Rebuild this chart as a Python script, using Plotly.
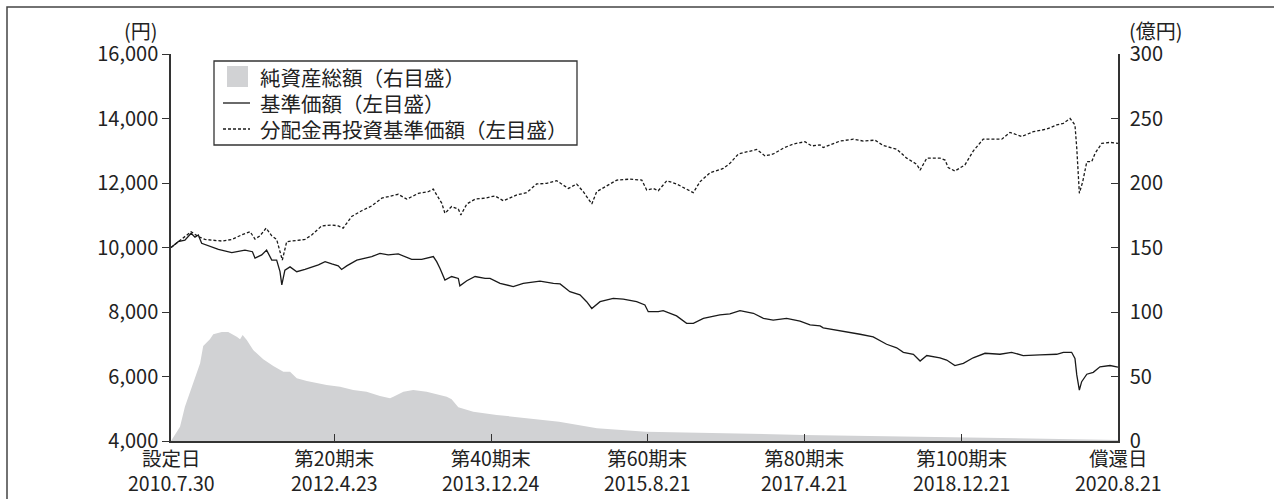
import plotly.graph_objects as go

# ---------------- data ----------------
nav_dates = ["2010-07-30","2010-08-27","2010-09-22","2010-10-16","2010-10-31","2010-11-13","2010-11-26",
    "2011-01-04","2011-01-30","2011-03-23","2011-05-13","2011-06-11","2011-06-21","2011-07-17","2011-08-05",
    "2011-08-25","2011-09-13","2011-09-26","2011-10-03","2011-10-15","2011-11-04","2011-11-30","2012-01-01",
    "2012-02-22","2012-03-19","2012-04-14","2012-05-09","2012-05-22","2012-06-11","2012-07-20","2012-08-21",
    "2012-09-16","2012-10-18","2012-11-19","2012-12-28","2013-01-23","2013-02-18","2013-03-29","2013-04-23",
    "2013-05-13","2013-05-26","2013-06-08","2013-06-27","2013-07-23","2013-08-18","2013-08-24","2013-09-20",
    "2013-10-22","2013-11-30","2013-12-19","2014-01-27","2014-03-19","2014-04-27","2014-07-01","2014-08-22",
    "2014-09-17","2014-10-25","2014-12-03","2014-12-29","2015-01-18","2015-02-19","2015-04-11","2015-05-20",
    "2015-07-11","2015-08-12","2015-08-25","2015-10-03","2015-10-22","2015-12-13","2016-01-21","2016-02-16",
    "2016-03-26","2016-05-29","2016-07-07","2016-08-15","2016-10-06","2016-11-14","2016-12-22","2017-02-12",
    "2017-04-05","2017-05-14","2017-06-22","2017-07-04","2017-09-20","2017-11-24","2018-01-14","2018-03-07",
    "2018-04-15","2018-05-11","2018-06-19","2018-07-15","2018-08-10","2018-09-30","2018-10-26","2018-11-27",
    "2018-12-30","2019-02-06","2019-03-24","2019-05-21","2019-07-05","2019-08-19","2019-10-23","2019-12-27",
    "2020-01-22","2020-02-23","2020-03-07","2020-03-14","2020-03-24","2020-04-02","2020-04-22","2020-05-17",
    "2020-06-12","2020-07-21","2020-08-21"]
nav_values = [10000,10180,10230,10440,10320,10390,10130,
    10030,9940,9840,9920,9870,9670,9770,9920,
    9610,9610,9250,8840,9300,9400,9250,9320,
    9460,9560,9490,9430,9320,9430,9610,9670,
    9720,9820,9770,9800,9720,9630,9630,9670,
    9720,9560,9350,8990,9100,9040,8810,8970,
    9100,9040,9040,8890,8790,8890,8960,8890,
    8870,8630,8530,8320,8110,8320,8420,8400,
    8320,8220,8010,8010,8040,7880,7650,7650,
    7800,7910,7940,8040,7960,7800,7750,7800,
    7720,7600,7570,7510,7410,7310,7230,7000,
    6890,6750,6690,6480,6650,6580,6510,6340,
    6410,6580,6720,6690,6750,6650,6670,6690,
    6750,6750,6560,6050,5580,5840,6070,6130,
    6300,6340,6290]

reinv_dates = ["2010-07-30","2010-10-16","2010-11-13","2010-12-09","2011-02-12","2011-03-23","2011-04-30",
    "2011-06-02","2011-06-21","2011-07-10","2011-08-03","2011-08-25","2011-09-13","2011-09-26","2011-10-05",
    "2011-10-22","2011-11-30","2012-01-01","2012-01-27","2012-03-06","2012-04-14","2012-05-09","2012-05-28",
    "2012-06-30","2012-08-08","2012-09-16","2012-10-25","2012-12-28","2013-01-30","2013-03-16","2013-04-23",
    "2013-05-13","2013-05-26","2013-06-15","2013-06-27","2013-07-23","2013-08-18","2013-08-28","2013-09-20",
    "2013-10-22","2013-11-30","2014-01-07","2014-02-09","2014-04-02","2014-05-10","2014-06-18","2014-07-27",
    "2014-09-04","2014-10-19","2014-11-20","2014-12-16","2015-01-18","2015-02-06","2015-03-17","2015-04-25",
    "2015-06-15","2015-07-31","2015-08-19","2015-09-14","2015-10-03","2015-11-05","2015-12-13","2016-01-21",
    "2016-02-16","2016-03-13","2016-04-21","2016-06-11","2016-07-07","2016-08-09","2016-09-10","2016-10-19",
    "2016-11-20","2016-12-22","2017-01-30","2017-03-10","2017-04-24","2017-05-20","2017-06-22","2017-07-04",
    "2017-09-07","2017-10-29","2017-12-07","2018-01-21","2018-02-22","2018-04-15","2018-05-24","2018-07-02",
    "2018-07-15","2018-08-10","2018-09-30","2018-10-20","2018-11-01","2018-11-27","2019-01-05","2019-02-06",
    "2019-03-17","2019-05-28","2019-06-29","2019-08-13","2019-09-27","2019-11-18","2019-12-27","2020-01-22",
    "2020-02-17","2020-03-07","2020-03-14","2020-03-24","2020-04-06","2020-04-22","2020-05-11","2020-05-24",
    "2020-06-19","2020-07-21","2020-08-21"]
reinv_values = [10000,10490,10340,10250,10200,10250,10390,
    10490,10260,10360,10600,10360,10250,9820,9610,
    10180,10230,10250,10390,10670,10700,10670,10600,
    10960,11140,11290,11530,11650,11500,11680,11730,
    11810,11630,11370,11060,11270,11190,11010,11350,
    11500,11530,11600,11450,11630,11700,11970,11990,
    12070,11830,11970,11730,11350,11730,11910,12090,
    12120,12090,11780,11830,11760,12070,11970,11800,
    11700,12040,12320,12450,12610,12900,12970,13040,
    12840,12900,13080,13210,13280,13150,13180,13100,
    13300,13360,13300,13330,13160,13050,12770,12580,
    12400,12770,12770,12710,12480,12370,12560,12990,
    13360,13360,13570,13440,13590,13670,13800,13850,
    14000,13800,13080,11680,12040,12660,12660,12920,
    13230,13260,13230]

assets_dates = ["2010-07-30","2010-09-03","2010-09-22","2010-10-25","2010-11-20","2010-12-02","2010-12-28",
    "2011-01-10","2011-02-12","2011-03-09","2011-04-11","2011-04-24","2011-05-04","2011-05-20","2011-06-14",
    "2011-07-23","2011-08-31","2011-10-09","2011-11-04","2011-11-30","2012-01-08","2012-03-25","2012-05-16",
    "2012-07-06","2012-08-27","2012-10-18","2012-11-26","2012-12-09","2013-01-17","2013-02-24","2013-04-17",
    "2013-07-04","2013-07-23","2013-08-18","2013-10-15","2014-01-14","2014-09-13","2015-02-07","2015-08-16",
    "2017-04-20","2018-12-21","2020-02-28","2020-08-21"]
assets_values = [0,11,26.6,44.7,60.2,73.6,78.8,
    82.7,84.5,84.5,80.9,78.8,82.2,78.3,70.5,
    63.3,58.1,53.7,53.7,48.6,46.5,43.4,42.1,
    39.5,38.2,34.9,33.1,34.3,38.2,39.5,38.2,
    34.3,32.3,26.1,22.7,20.2,15.0,9.8,7.2,
    4.7,2.6,1.3,0.8]

tick_dates = ["2010-07-30","2012-04-23","2013-12-24","2015-08-21","2017-04-21","2018-12-21","2020-08-21"]
tick_names = ["設定日","第20期末","第40期末","第60期末","第80期末","第100期末","償還日"]
tick_date_labels = ["2010.7.30","2012.4.23","2013.12.24","2015.8.21","2017.4.21","2018.12.21","2020.8.21"]
left_ticks = [4000, 6000, 8000, 10000, 12000, 14000, 16000]
right_ticks = [0, 50, 100, 150, 200, 250, 300]

legend_labels = ["純資産総額（右目盛）", "基準価額（左目盛）", "分配金再投資基準価額（左目盛）"]

# ---------------- figure ----------------
FONT = "Noto Sans CJK JP"
AX = "#333333"
TXT = "#222222"
W, H = 1274, 499
L, R, T, B = 171, 156, 54, 58
PW, PH = W - L - R, H - T - B


def px(x):
    return (x - L) / PW


def py(y):
    return (H - B - y) / PH


fig = go.Figure()
fig.add_trace(go.Scatter(x=assets_dates, y=assets_values, name=legend_labels[0], yaxis="y2",
                         mode="lines", line=dict(width=0, color="#d1d2d4"), fill="tozeroy",
                         fillcolor="#d1d2d4", showlegend=False, hoverinfo="skip"))
fig.add_trace(go.Scatter(x=nav_dates, y=nav_values, name=legend_labels[1], mode="lines",
                         line=dict(color="#1a1a1a", width=1.3), showlegend=False))
fig.add_trace(go.Scatter(x=reinv_dates, y=reinv_values, name=legend_labels[2], mode="lines",
                         line=dict(color="#1a1a1a", width=1.3, dash="3px,2px"), showlegend=False))

annotations = []
for d, n, lbl in zip(tick_dates, tick_names, tick_date_labels):
    annotations.append(dict(x=d, y=py(470), xref="x", yref="paper", text=n + "<br>" + lbl,
                            showarrow=False, xanchor="center", yanchor="middle", align="center",
                            font=dict(family=FONT, size=19.5, color=TXT)))
annotations.append(dict(x=px(141), y=py(31), xref="paper", yref="paper", text="(円)", showarrow=False,
                        xanchor="center", yanchor="middle", font=dict(family=FONT, size=20, color=TXT)))
annotations.append(dict(x=px(1127), y=py(31), xref="paper", yref="paper", text="(億円)", showarrow=False,
                        xanchor="left", yanchor="middle", font=dict(family=FONT, size=20, color=TXT)))
for lbl, yy in zip(legend_labels, [77, 103, 129]):
    annotations.append(dict(x=px(258), y=py(yy), xref="paper", yref="paper", text=lbl, showarrow=False,
                            xanchor="left", yanchor="middle", font=dict(family=FONT, size=20.5, color=TXT)))

shapes = [
    # outer frame
    dict(type="rect", xref="paper", yref="paper", x0=px(7), x1=px(1290), y0=py(515), y1=py(7),
         line=dict(color="#444", width=1.5), fillcolor="rgba(0,0,0,0)"),
    # legend box
    dict(type="rect", xref="paper", yref="paper", x0=px(214), x1=px(577), y0=py(145), y1=py(61),
         line=dict(color="#333", width=1.3), fillcolor="white"),
    dict(type="rect", xref="paper", yref="paper", x0=px(227), x1=px(248), y0=py(87), y1=py(66),
         line=dict(width=0), fillcolor="#d1d2d4"),
    dict(type="line", xref="paper", yref="paper", x0=px(223), x1=px(250), y0=py(103), y1=py(103),
         line=dict(color="#1a1a1a", width=1.3)),
    dict(type="line", xref="paper", yref="paper", x0=px(223), x1=px(250), y0=py(129), y1=py(129),
         line=dict(color="#1a1a1a", width=1.3, dash="3px,2px")),
]

fig.update_layout(
    width=W, height=H,
    margin=dict(l=L, r=R, t=T, b=B, pad=0),
    paper_bgcolor="white", plot_bgcolor="white",
    font=dict(family=FONT, size=20, color=TXT),
    showlegend=False,
    xaxis=dict(type="date", range=[tick_dates[0], tick_dates[-1]], tickvals=tick_dates,
               showticklabels=False, ticks="inside", ticklen=7, tickwidth=1.3, tickcolor=AX,
               showline=True, linecolor=AX, linewidth=1.5, showgrid=False, zeroline=False),
    yaxis=dict(range=[4000, 16000], tickvals=left_ticks, tickformat=",", ticks="outside",
               ticklen=7, tickwidth=1.3, tickcolor=AX, showline=True, linecolor=AX, linewidth=1.5,
               showgrid=False, zeroline=False, tickfont=dict(family=FONT, size=20, color=TXT)),
    yaxis2=dict(range=[0, 300], tickvals=right_ticks, overlaying="y", side="right", anchor="x",
                ticks="inside", ticklen=7, tickwidth=1.3, tickcolor=AX, showline=True, linecolor=AX,
                linewidth=1.5, showgrid=False, zeroline=False, ticklabelstandoff=6,
                tickfont=dict(family=FONT, size=20, color=TXT)),
    annotations=annotations,
    shapes=shapes,
)

fig.write_html("out.html", config={"displayModeBar": False},
               post_script="document.body.style.margin='0';document.body.style.padding='0';"
                           "document.documentElement.style.overflow='hidden';")
